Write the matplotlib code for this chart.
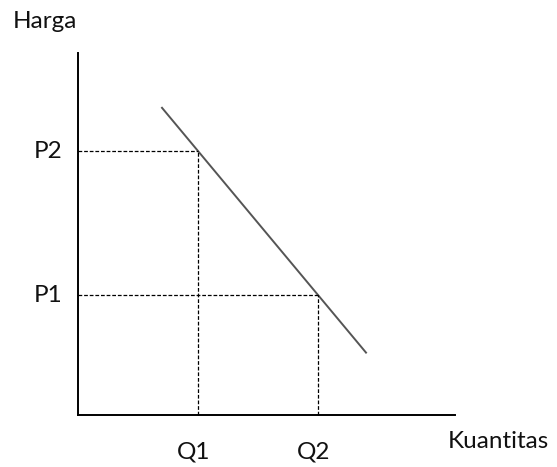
import matplotlib.pyplot as plt

# demand curve and the two price/quantity points
demand_q = [1.4, 4.8]
demand_p = [6.4, 1.3]
q_points = [2, 4]
p_points = [5.5, 2.5]
q_labels = ["Q1", "Q2"]
p_labels = ["P1", "P2"]

plt.rcParams['font.family'] = ['Lato', 'DejaVu Sans']

fig = plt.figure(figsize=(5.57, 4.67), dpi=100)
ax = fig.add_axes([0, 0, 1, 1])
ax.set_xlim(-1.3, 7.983)
ax.set_ylim(-1.083, 8.646)
ax.axis('off')

# axes
ax.plot([0, 0], [0, 7.54], color='black', linewidth=1.4)
ax.plot([0, 6.28], [0, 0], color='black', linewidth=1.4)

# demand line
ax.plot(demand_q, demand_p, color='#555555', linewidth=1.4)

# dashed guides
for q, p in zip(q_points, p_points):
    ax.plot([0, q], [p, p], color='black', linestyle=(0, (3, 1.5)), linewidth=0.9)
    ax.plot([q, q], [0, p], color='black', linestyle=(0, (3, 1.5)), linewidth=0.9)

# labels
fs = 17.5
for q, lab in zip(q_points, q_labels):
    ax.text(q - 0.07, -0.78, lab, fontsize=fs, ha='center', va='center', color='#111111')
for p, lab in zip(sorted(p_points), p_labels):
    ax.text(-0.5, p, lab, fontsize=fs, ha='center', va='center', color='#111111')

ax.text(-0.55, 8.19, "Harga", fontsize=fs, ha='center', va='center', color='#111111')
ax.text(7.0, -0.55, "Kuantitas", fontsize=fs, ha='center', va='center', color='#111111')

fig.savefig("out.png", dpi=100)
